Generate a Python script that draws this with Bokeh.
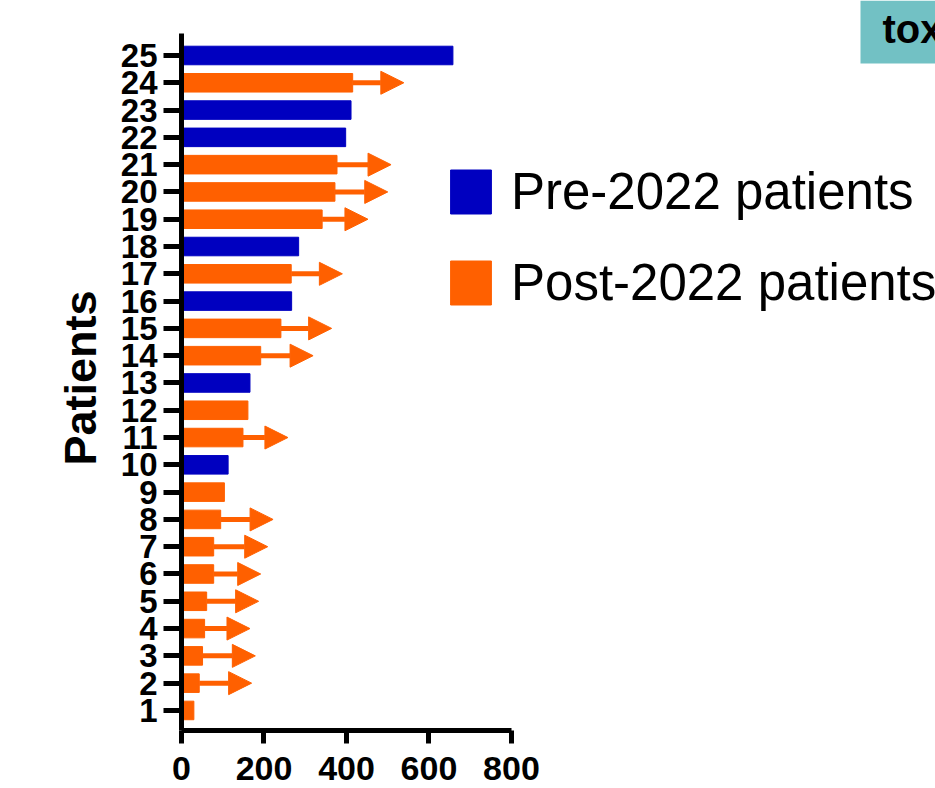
from bokeh.plotting import figure
from bokeh.models import (Range1d, FixedTicker, ColumnDataSource, Arrow, NormalHead,
                          Label, BoxAnnotation, Legend, LegendItem)
from bokeh.embed import file_html
from bokeh.resources import INLINE

# ---- data ----
patients = list(range(1, 26))
follow_up = [30, 43, 51, 56, 61, 78, 78, 95, 104, 113, 149, 161, 166, 192, 241,
             267, 266, 284, 341, 372, 377, 398, 411, 415, 658]
cohort = ["Post", "Post", "Post", "Post", "Post", "Post", "Post", "Post", "Post", "Pre",
          "Post", "Post", "Pre", "Post", "Post", "Pre", "Post", "Pre", "Post", "Post",
          "Post", "Pre", "Pre", "Post", "Pre"]
# patients still ongoing (arrow) and where the arrow tip ends
arrow_patients = [2, 3, 4, 5, 6, 7, 8, 11, 14, 15, 17, 19, 20, 21, 24]
arrow_tips = [170, 179, 166, 187, 192, 209, 222, 258, 319, 364, 390, 452, 500, 508, 539]
x_ticks = [0, 200, 400, 600, 800]
legend_labels = {"Pre": "Pre-2022 patients", "Post": "Post-2022 patients"}

BLUE = "#0000C0"
ORANGE = "#FF6000"
FONT = "Liberation Sans"

p = figure(frame_width=754, frame_height=730, min_border_left=181, min_border_right=0,
           min_border_top=0, min_border_bottom=58,
           x_range=Range1d(0, 1828), y_range=Range1d(0.265, 27.015),
           output_backend="svg", toolbar_location=None)
p.outline_line_color = None
p.grid.visible = False
p.background_fill_color = "white"
p.border_fill_color = "white"

src_pre = ColumnDataSource(dict(
    y=[pt for pt, c in zip(patients, cohort) if c == "Pre"],
    right=[v for v, c in zip(follow_up, cohort) if c == "Pre"]))
src_post = ColumnDataSource(dict(
    y=[pt for pt, c in zip(patients, cohort) if c == "Post"],
    right=[v for v, c in zip(follow_up, cohort) if c == "Post"]))

r_pre = p.hbar(y="y", left=0, right="right", height=0.68, source=src_pre,
               fill_color=BLUE, line_color=BLUE)
r_post = p.hbar(y="y", left=0, right="right", height=0.68, source=src_post,
                fill_color=ORANGE, line_color=ORANGE)

arrow_starts = [follow_up[patients.index(pt)] for pt in arrow_patients]
arrow_src = ColumnDataSource(dict(x0=arrow_starts, x1=arrow_tips, y=arrow_patients))
p.add_layout(Arrow(end=NormalHead(size=23, fill_color=ORANGE, line_color=ORANGE, line_width=1),
                   x_start="x0", y_start="y", x_end="x1", y_end="y", source=arrow_src,
                   line_color=ORANGE, line_width=5))

# axes
for ax in (p.xaxis[0], p.yaxis[0]):
    ax.axis_line_width = 5
    ax.axis_line_color = "black"
    ax.major_tick_line_width = 5
    ax.major_tick_line_color = "black"
    ax.major_tick_in = 0
    ax.minor_tick_line_color = None
    ax.major_label_text_font = FONT
    ax.major_label_text_font_style = "bold"
    ax.major_label_text_color = "black"

p.xaxis.ticker = FixedTicker(ticks=x_ticks)
p.xaxis.bounds = (0, 800)
p.xaxis.major_tick_out = 13
p.xaxis.major_label_standoff = 13
p.xaxis.major_label_text_font_size = "34px"

p.yaxis.ticker = FixedTicker(ticks=patients)
p.yaxis.bounds = (0.265, 25.806)
p.yaxis.major_tick_out = 18
p.yaxis.major_label_standoff = 6
p.yaxis.major_label_text_font_size = "33px"
p.yaxis.axis_label = "Patients  "
p.yaxis.axis_label_text_font = FONT
p.yaxis.axis_label_text_font_style = "bold"
p.yaxis.axis_label_text_font_size = "45px"
p.yaxis.axis_label_text_color = "black"
p.yaxis.axis_label_standoff = 12

legend = Legend(items=[LegendItem(label=legend_labels["Pre"], renderers=[r_pre]),
                       LegendItem(label=legend_labels["Post"], renderers=[r_post])],
                location=(264, 418), orientation="vertical",
                glyph_width=51, glyph_height=55, label_standoff=15, spacing=32,
                padding=0, margin=0, border_line_color=None, background_fill_alpha=0,
                label_text_font=FONT, label_text_font_size="51px", label_text_color="black")
p.add_layout(legend)

# teal tag box in the top-right corner
p.add_layout(BoxAnnotation(left=679, left_units="screen", bottom=667, bottom_units="screen",
                           fill_color="#72C1C4", fill_alpha=1, line_color=None))
p.add_layout(Label(x=701, y=702, x_units="screen", y_units="screen", text="tox",
                   text_font=FONT, text_font_style="bold", text_font_size="40px",
                   text_color="black", text_baseline="middle"))

open("out.html", "w").write(file_html(p, INLINE))
